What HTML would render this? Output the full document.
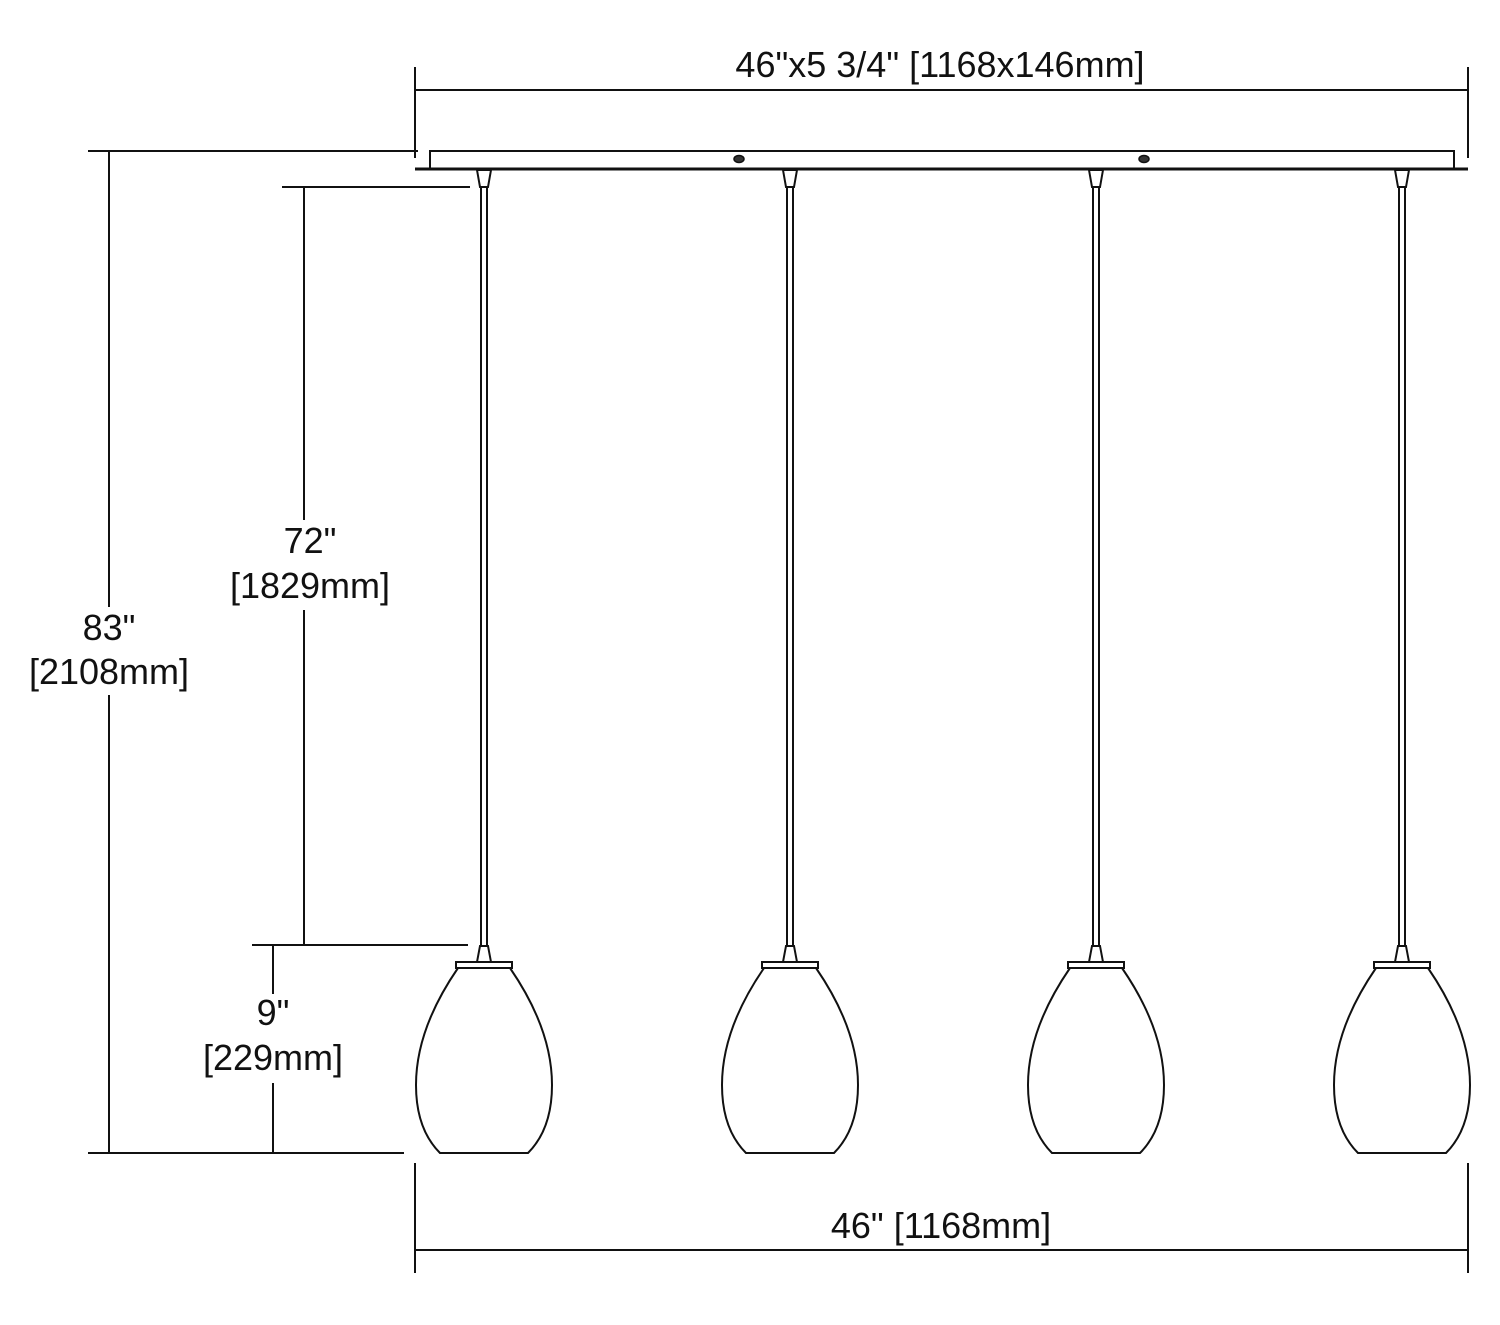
<!DOCTYPE html>
<html><head><meta charset="utf-8"><style>
html,body{margin:0;padding:0;background:#fff;}
svg{display:block;}
text{font-family:"Liberation Sans",Arial,sans-serif;font-size:36px;fill:#111;text-anchor:middle;}
</style></head><body>
<svg width="1500" height="1325" viewBox="0 0 1500 1325" xmlns="http://www.w3.org/2000/svg">
<defs>
<g id="p" stroke="#111" stroke-width="2" fill="#fff">
<path d="M-7,170 L7,170 L4,187 L-4,187 Z"/>
<line x1="-3" y1="187" x2="-3" y2="946"/>
<line x1="3" y1="187" x2="3" y2="946"/>
<path d="M-4,946 L4,946 L7,962 L-7,962 Z"/>
<rect x="-28" y="962" width="56" height="6"/>
<path d="M-26,968 C-48,1000 -68,1040 -68,1085 C-68,1115 -60,1137 -44,1153 L44,1153 C60,1137 68,1115 68,1085 C68,1040 48,1000 26,968 Z"/>
</g>
</defs>
<g stroke="#111" stroke-width="2" fill="none">
<line x1="415" y1="67" x2="415" y2="158"/>
<line x1="1468" y1="67" x2="1468" y2="158"/>
<line x1="415" y1="90" x2="1468" y2="90"/>
<path d="M430,169 L430,151 L1454,151 L1454,169"/>
<line x1="415" y1="169" x2="1468" y2="169" stroke-width="3"/>
<line x1="88" y1="151" x2="418" y2="151"/>
<line x1="109" y1="151" x2="109" y2="607"/>
<line x1="109" y1="695" x2="109" y2="1153"/>
<line x1="88" y1="1153" x2="404" y2="1153"/>
<line x1="282" y1="187" x2="470" y2="187"/>
<line x1="304" y1="187" x2="304" y2="520"/>
<line x1="304" y1="610" x2="304" y2="945"/>
<line x1="252" y1="945" x2="468" y2="945"/>
<line x1="273" y1="945" x2="273" y2="994"/>
<line x1="273" y1="1083" x2="273" y2="1153"/>
<line x1="415" y1="1163" x2="415" y2="1273"/>
<line x1="1468" y1="1163" x2="1468" y2="1273"/>
<line x1="415" y1="1250" x2="1468" y2="1250"/>
</g>
<g fill="#333" stroke="#111" stroke-width="1.5">
<ellipse cx="739" cy="159" rx="5" ry="3.5"/>
<ellipse cx="1144" cy="159" rx="5" ry="3.5"/>
</g>
<use href="#p" transform="translate(484,0)"/>
<use href="#p" transform="translate(790,0)"/>
<use href="#p" transform="translate(1096,0)"/>
<use href="#p" transform="translate(1402,0)"/>
<text x="940" y="77">46"x5 3/4" [1168x146mm]</text>
<text x="109" y="640">83"</text>
<text x="109" y="684">[2108mm]</text>
<text x="310" y="553">72"</text>
<text x="310" y="598">[1829mm]</text>
<text x="273" y="1025">9"</text>
<text x="273" y="1070">[229mm]</text>
<text x="941" y="1238">46" [1168mm]</text>
</svg>
</body></html>
